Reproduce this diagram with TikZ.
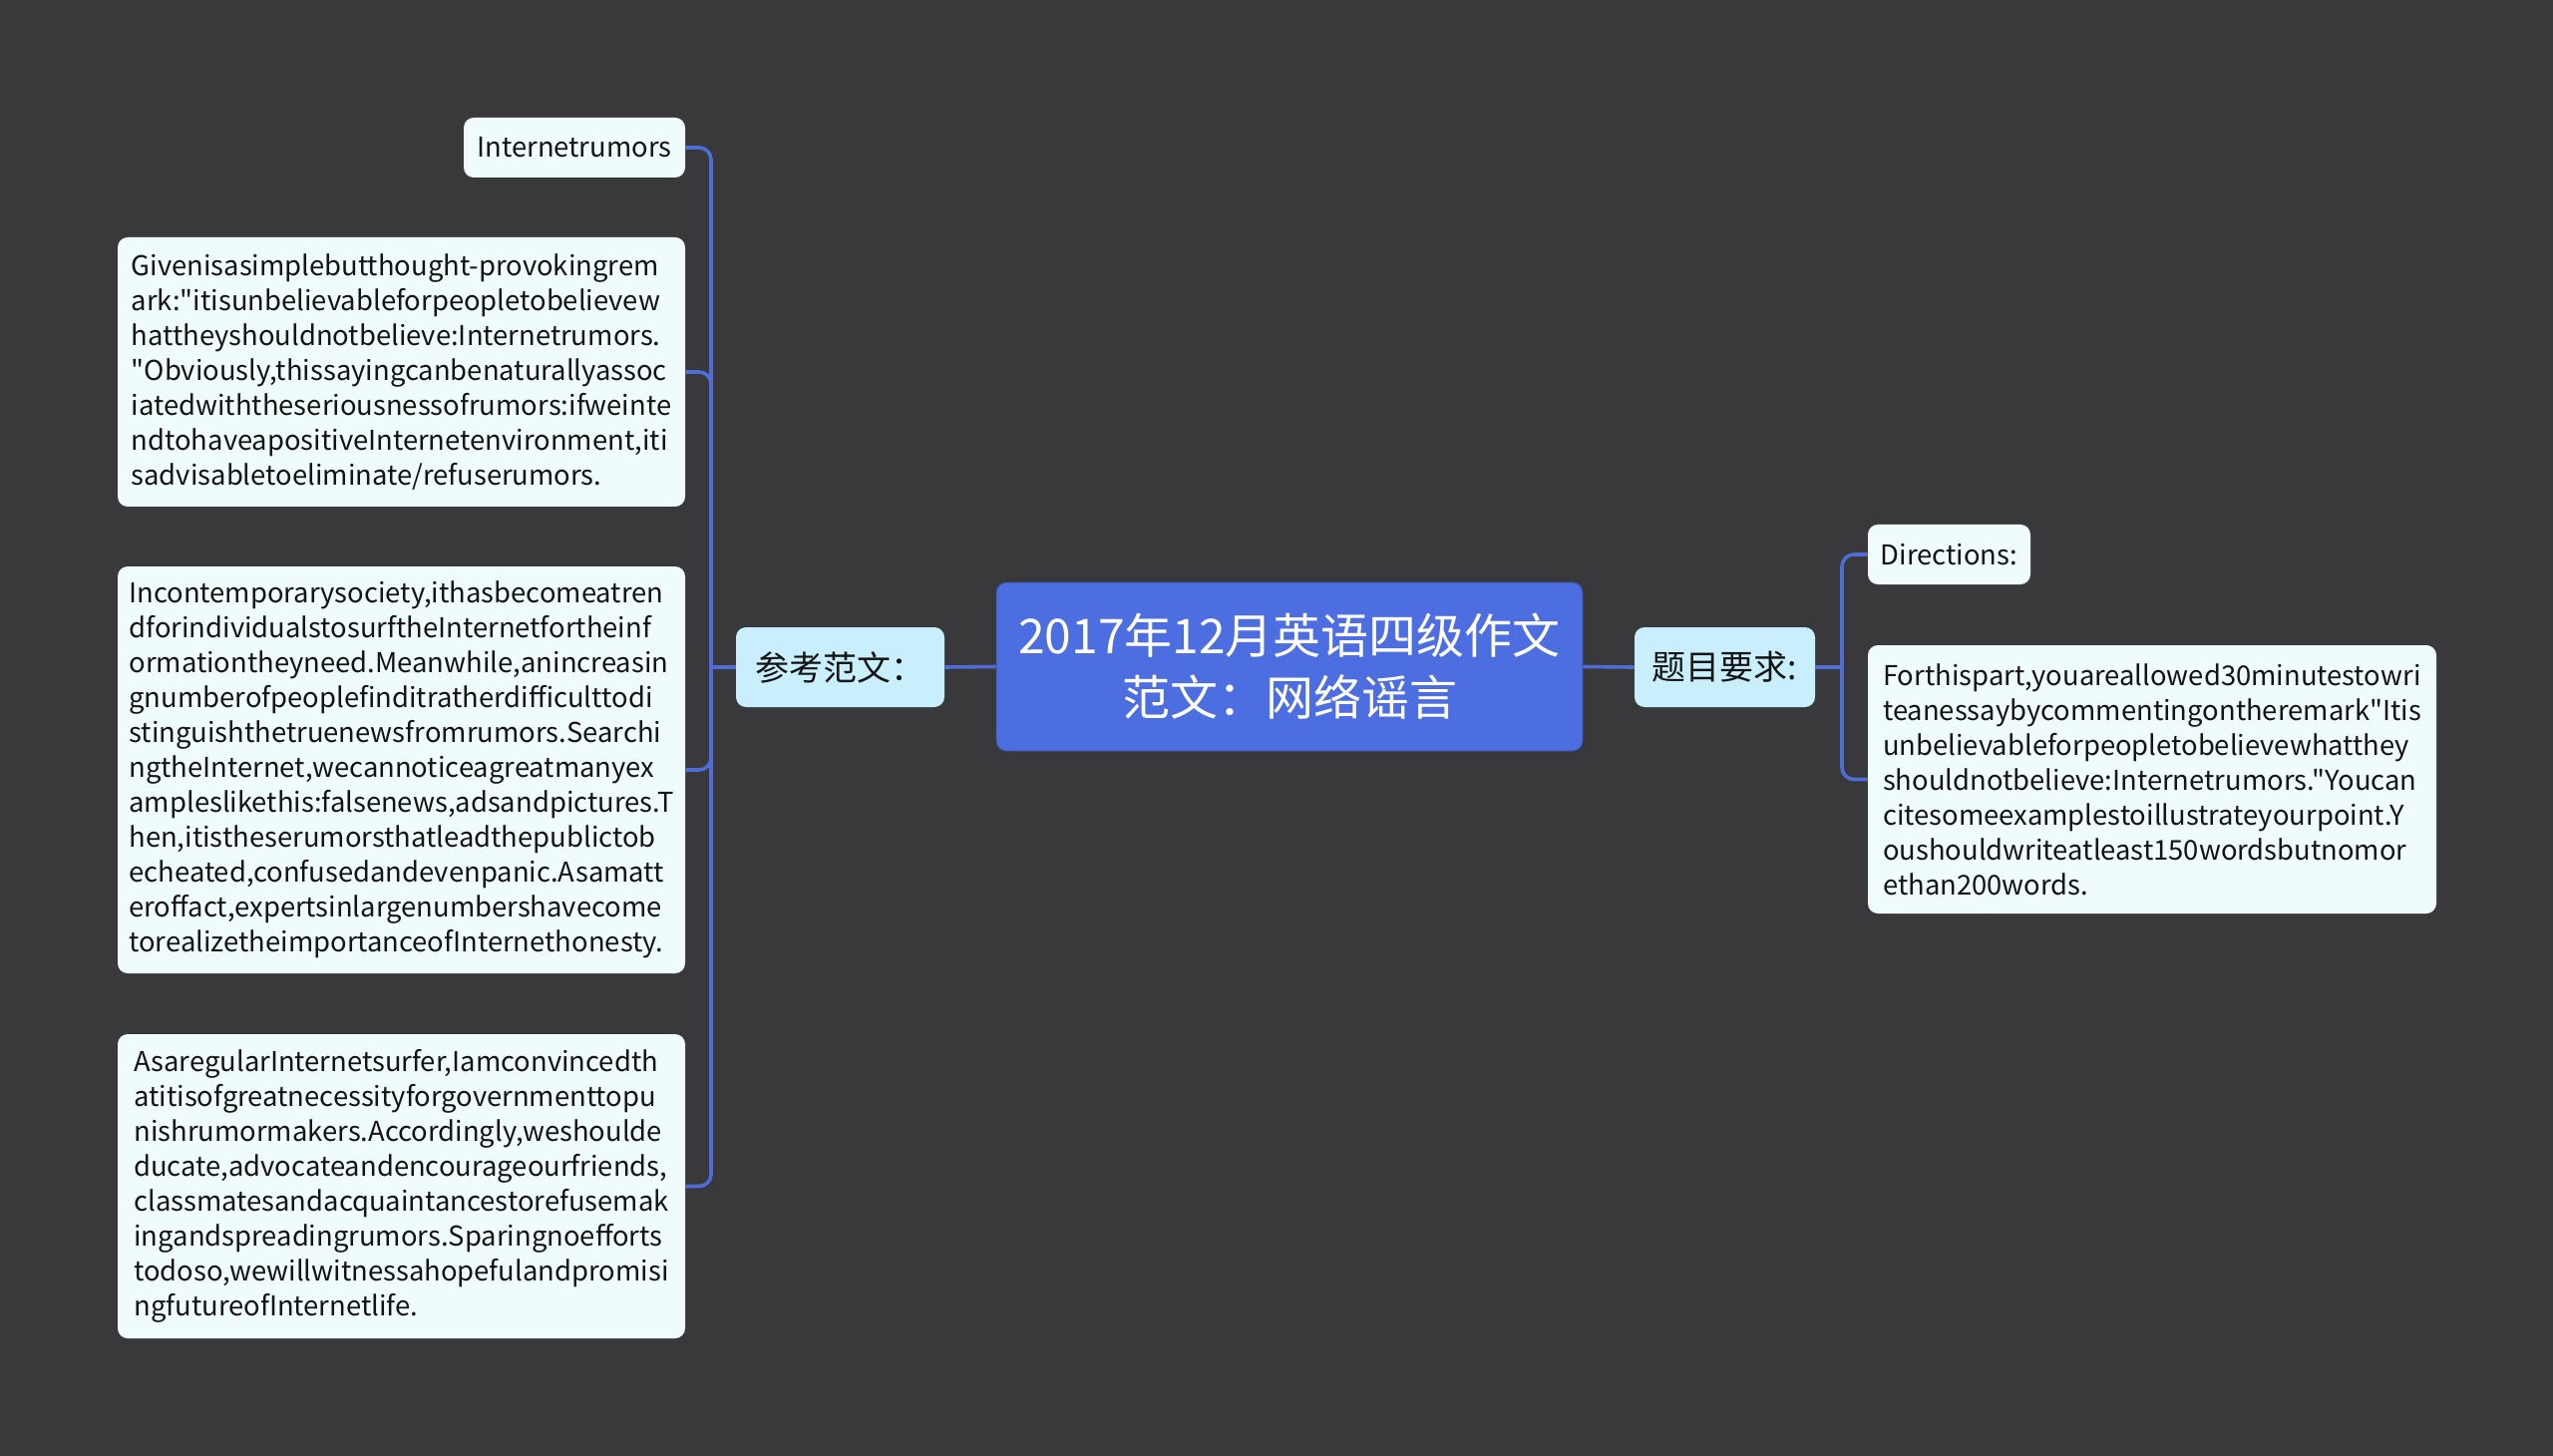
\documentclass[tikz,border=0pt]{standalone}
\usepackage{fontspec}
\setmainfont{Noto Sans CJK SC}
\newfontfamily\leaffont{Noto Sans CJK SC}
\definecolor{bgc}{RGB}{57,56,58}
\definecolor{rootc}{RGB}{77,110,224}
\definecolor{branchc}{RGB}{201,238,252}
\definecolor{leafc}{RGB}{240,251,252}
\definecolor{linec}{RGB}{80,108,216}
\definecolor{textc}{RGB}{20,20,20}
\begin{document}
\begin{tikzpicture}[x=0.5pt,y=-0.5pt,
  rootbox/.style={fill=rootc, draw=rootc!70!black, line width=0.4pt, rounded corners=5pt, text=white, align=center, inner sep=0pt,
    font=\fontsize{24}{31}\selectfont},
  branchbox/.style={fill=branchc, rounded corners=5pt, text=textc, align=center, inner sep=0pt,
    font=\fontsize{17}{21}\selectfont},
  leafbox/.style={fill=leafc, rounded corners=5pt, text=textc, align=left, inner sep=0pt,
    font=\leaffont\fontsize{13.7}{17.5}\selectfont},
  conn/.style={draw=linec, line width=1.8pt, rounded corners=6pt}]
\fill[bgc] (0,0) rectangle (2560,1460);
\useasboundingbox (0,0) rectangle (2560,1460);

% root and branches
\node[rootbox, minimum width=294pt, minimum height=84.5pt] (root) at (1293,668.5)
  {2017年12月英语四级作文\\范文：网络谣言};
\node[branchbox, minimum width=104.5pt, minimum height=40pt] (bl) at (842.5,669) {参考范文：};
\node[branchbox, minimum width=90.5pt, minimum height=40pt] (br) at (1729.5,669) {题目要求:};

% left leaves
\node[leafbox, minimum width=111pt, minimum height=30pt, align=center] (l1) at (576,148) {Internetrumors};
\node[leafbox, minimum width=284.5pt, minimum height=135pt] (l2) at (402.5,373) {%
Givenisasimplebutthought-provokingrem\\
ark:"itisunbelievableforpeopletobelievew\\
hattheyshouldnotbelieve:Internetrumors.\\
"Obviously,thissayingcanbenaturallyassoc\\
iatedwiththeseriousnessofrumors:ifweinte\\
ndtohaveapositiveInternetenvironment,iti\\
sadvisabletoeliminate/refuserumors.};
\node[leafbox, minimum width=284.5pt, minimum height=204pt] (l3) at (402.5,772) {%
Incontemporarysociety,ithasbecomeatren\\
dforindividualstosurftheInternetfortheinf\\
ormationtheyneed.Meanwhile,anincreasin\\
gnumberofpeoplefinditratherdifficulttodi\\
stinguishthetruenewsfromrumors.Searchi\\
ngtheInternet,wecannoticeagreatmanyex\\
ampleslikethis:falsenews,adsandpictures.T\\
hen,itistheserumorsthatleadthepublictob\\
echeated,confusedandevenpanic.Asamatt\\
eroffact,expertsinlargenumbershavecome\\
torealizetheimportanceofInternethonesty.};
\node[leafbox, minimum width=284.5pt, minimum height=152.5pt] (l4) at (402.5,1189.5) {%
AsaregularInternetsurfer,Iamconvincedth\\
atitisofgreatnecessityforgovernmenttopu\\
nishrumormakers.Accordingly,weshoulde\\
ducate,advocateandencourageourfriends,\\
classmatesandacquaintancestorefusemak\\
ingandspreadingrumors.Sparingnoefforts\\
todoso,wewillwitnessahopefulandpromisi\\
ngfutureofInternetlife.};

% right leaves
\node[leafbox, minimum width=81.5pt, minimum height=30pt, align=center] (r1) at (1954.5,556) {Directions:};
\node[leafbox, minimum width=285pt, minimum height=134.5pt] (r2) at (2158,781.5) {%
Forthispart,youareallowed30minutestowri\\
teanessaybycommentingontheremark"Itis\\
unbelievableforpeopletobelievewhatthey\\
shouldnotbelieve:Internetrumors."Youcan\\
citesomeexamplestoillustrateyourpoint.Y\\
oushouldwriteatleast150wordsbutnomor\\
ethan200words.};

% connectors
\coordinate (tl) at (713,669);
\coordinate (tr) at (1847,669);
\draw[conn] (root.west) -- (bl.east);
\draw[conn] (root.east) -- (br.west);
\draw[conn] (bl.west) -- (tl);
\draw[conn] (tl) |- (l1.east);
\draw[conn] (tl) |- (l2.east);
\draw[conn] (tl) |- (l3.east);
\draw[conn] (tl) |- (l4.east);
\draw[conn] (br.east) -- (tr);
\draw[conn] (tr) |- (r1.west);
\draw[conn] (tr) |- (r2.west);
\end{tikzpicture}
\end{document}
